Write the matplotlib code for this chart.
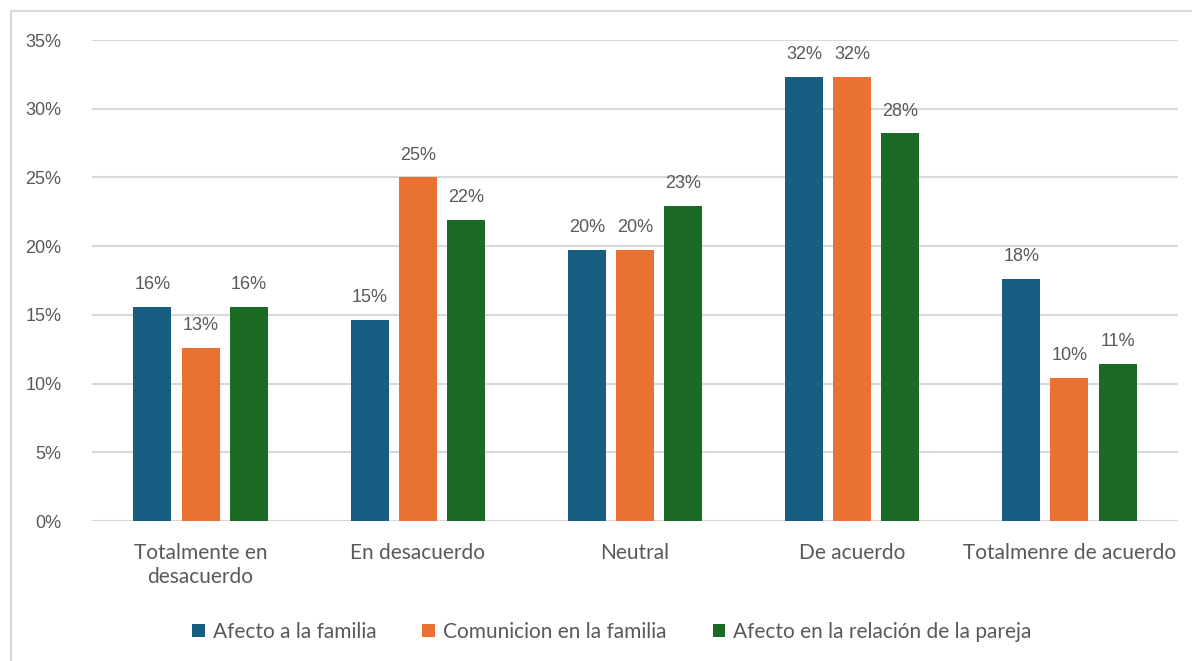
import matplotlib
matplotlib.use("Agg")
import matplotlib.pyplot as plt
import numpy as np
from matplotlib.patches import Rectangle

categorias = ["Totalmente en\ndesacuerdo", "En desacuerdo", "Neutral",
              "De acuerdo", "Totalmenre de acuerdo"]
afecto_familia = [15.6, 14.6, 19.7, 32.3, 17.6]
comunicacion_familia = [12.6, 25.0, 19.7, 32.3, 10.4]
afecto_pareja = [15.6, 21.9, 22.9, 28.2, 11.4]
series = ["Afecto a la familia", "Comunicion en la familia",
          "Afecto en la relación de la pareja"]
yticks = [0, 5, 10, 15, 20, 25, 30, 35]

colores = ["#175E82", "#E97132", "#1B6B27"]
gris = "#595959"

fig = plt.figure(figsize=(11.92, 6.61), dpi=100)
# marco gris claro alrededor del gráfico
fig.patches.append(Rectangle((11 / 1192, -0.05), 1.1, (650 / 661) + 0.05,
                             transform=fig.transFigure, fill=False,
                             edgecolor="#D9D9D9", linewidth=1.5))
ax = fig.add_axes([92 / 1192, 1 - 521 / 661, 1086 / 1192, 481 / 661])

x = np.arange(len(categorias))
paso = 0.222
ancho = 0.175
for i, (vals, nombre) in enumerate(zip([afecto_familia, comunicacion_familia, afecto_pareja], series)):
    barras = ax.bar(x + (i - 1) * paso, vals, width=ancho, color=colores[i],
                    label=nombre, zorder=3)
    for b, v in zip(barras, vals):
        ax.annotate(f"{v:.0f}%", (b.get_x() + b.get_width() / 2, v),
                    xytext=(0, 10), textcoords="offset points",
                    ha="center", va="bottom", fontsize=13,
                    family="Liberation Sans", color=gris)

ax.set_xlim(-0.5, len(categorias) - 0.5)
ax.set_ylim(0, 35)
ax.set_yticks(yticks)
ax.set_yticklabels([f"{t}%" for t in yticks], family="Liberation Sans",
                   fontsize=13, color=gris)
ax.set_xticks(x)
ax.set_xticklabels(categorias, family="Lato", fontsize=15, color=gris,
                   linespacing=1.25)
ax.tick_params(length=0)
ax.tick_params(axis="y", pad=22)
ax.tick_params(axis="x", pad=16)
ax.yaxis.grid(True, color="#D9D9D9", linewidth=1.5, zorder=0)
for s in ax.spines.values():
    s.set_visible(False)

ax.legend(loc="center", bbox_to_anchor=(612 / 1192, 1 - 632 / 661),
          bbox_transform=fig.transFigure, ncol=3, frameon=False,
          prop={"family": "Lato", "size": 15}, labelcolor=gris,
          handlelength=0.6, handleheight=0.6, handletextpad=0.4,
          columnspacing=2.2)

fig.savefig("out.png", dpi=100)
